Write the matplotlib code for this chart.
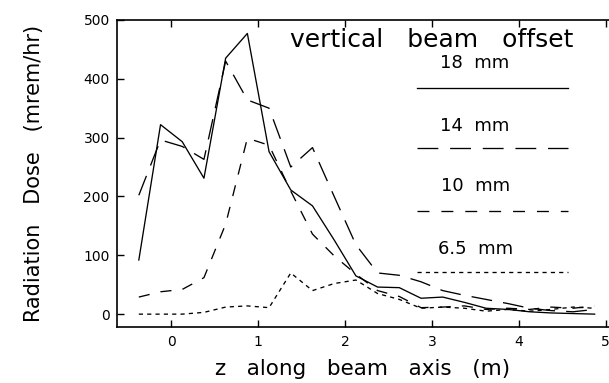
import numpy as np
import matplotlib
matplotlib.use("Agg")
import matplotlib.pyplot as plt

plt.rcParams['font.family'] = ['DejaVu Sans']
plt.rcParams['lines.scale_dashes'] = False

# z positions along the beam axis (m)
z = [-0.375, -0.125, 0.125, 0.375, 0.625, 0.875, 1.125, 1.375, 1.625, 1.875, 2.125,
     2.375, 2.625, 2.875, 3.125, 3.375, 3.625, 3.875, 4.125, 4.375, 4.625, 4.875]

# dose (mrem/hr) for each vertical beam offset
dose_18 = [92, 322, 293, 231, 435, 477, 276, 211, 184, 126, 65,
           46, 45, 27, 29, 20, 10, 8, 4, 2, 1, 0]
dose_14 = [202, 296, 285, 263, 430, 364, 350, 250, 283, 200, 118,
           70, 66, 55, 40, 32, 25, 18, 10, 6, 4, 8]
dose_10 = [29, 38, 42, 62, 153, 299, 287, 209, 136, 99, 68,
           40, 30, 11, 12, 14, 8, 10, 8, 12, 10, 14]
dose_65 = [0, 0, 0, 3, 12, 14, 11, 70, 40, 52, 58,
           35, 25, 10, 12, 10, 5, 8, 5, 8, 12, 10]

labels = ['18  mm', '14  mm', '10  mm', '6.5  mm']
series = [dose_18, dose_14, dose_10, dose_65]
dash_styles = [None, (15, 8), (8, 8), (3, 3)]
legend_dashes = [None, (15, 8.5), (8.6, 8.6), (3, 3)]

fig = plt.figure(figsize=(6.09, 3.83), dpi=100)
ax = fig.add_axes([0.1916, 0.146, 0.8084, 0.802])

for vals, ds in zip(series, dash_styles):
    line, = ax.plot(z, vals, color='black', lw=0.95)
    if ds is not None:
        line.set_dashes(ds)

# legend drawn as labels above sample lines (axes coordinates)
leg_x0, leg_x1 = 0.61, 0.916
leg_text_y = [0.86, 0.655, 0.459, 0.254]
leg_line_y = [0.778, 0.583, 0.379, 0.178]
ax.text(0.64, 0.935, 'vertical   beam   offset', transform=ax.transAxes,
        ha='center', va='center', fontsize=18)
for lab, ty, ly, ds in zip(labels, leg_text_y, leg_line_y, legend_dashes):
    ax.text(0.728, ty, lab, transform=ax.transAxes, ha='center', va='center', fontsize=13)
    l, = ax.plot([leg_x0, leg_x1], [ly, ly], transform=ax.transAxes, color='black', lw=0.95)
    if ds is not None:
        l.set_dashes(ds)

ax.set_xlim(-0.63, 5.04)
ax.set_ylim(-22, 500)
ax.set_xticks([0, 1, 2, 3, 4, 5])
ax.set_yticks([0, 100, 200, 300, 400, 500])
ax.tick_params(axis='x', direction='in', length=5, width=1, top=True, pad=6, labelsize=10)
ax.tick_params(axis='y', direction='in', length=5, width=1, pad=5, labelsize=10)
ax.spines['right'].set_visible(False)
for s in ['left', 'bottom', 'top']:
    ax.spines[s].set_linewidth(1.2)

ax.set_xlabel('z   along   beam   axis   (m)', fontsize=15.5, labelpad=7)
ax.set_ylabel('Radiation   Dose   (mrem/hr)', fontsize=15, labelpad=28)

fig.savefig('out.png', dpi=100)
